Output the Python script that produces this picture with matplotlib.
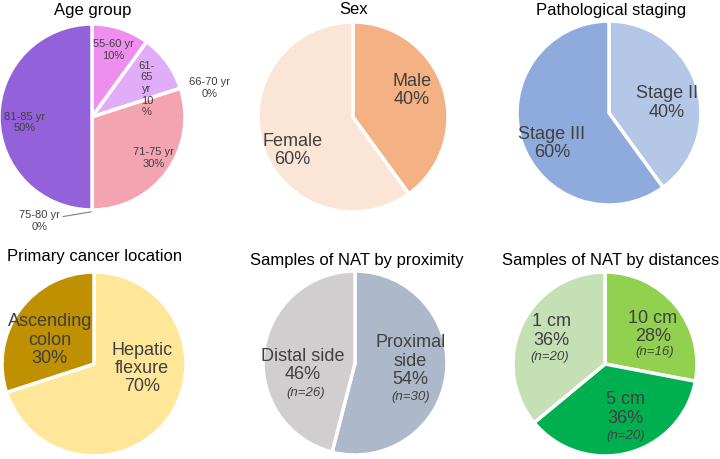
import matplotlib
matplotlib.use('Agg')
import matplotlib.pyplot as plt

plt.rcParams['font.family'] = ['Liberation Sans', 'DejaVu Sans']

W, H = 720, 459
TXT = '#404040'

# data
age_labels = ['55-60 yr', '61-65 yr', '66-70 yr', '71-75 yr', '75-80 yr', '81-85 yr']
age_values = [10, 10, 0, 30, 0, 50]
sex_labels = ['Male', 'Female']
sex_values = [40, 60]
stage_labels = ['Stage II', 'Stage III']
stage_values = [40, 60]
location_labels = ['Hepatic\nflexure', 'Ascending\ncolon']
location_values = [70, 30]
proximity_labels = ['Proximal\nside', 'Distal side']
proximity_values = [54, 46]
proximity_n = [30, 26]
distance_labels = ['10 cm', '5 cm', '1 cm']
distance_values = [28, 36, 36]
distance_n = [16, 20, 20]

fig = plt.figure(figsize=(W / 100, H / 100), dpi=100)


def px_axes(cx, cy, r):
    return fig.add_axes([(cx - r) / W, 1 - (cy + r) / H, 2 * r / W, 2 * r / H])


def draw_pie(cx, cy, r, values, colors, texts, pos, fs, ns=None, npos=None,
             ls=1.1):
    ax = px_axes(cx, cy, r)
    ax.pie(values, colors=colors, startangle=90, counterclock=False, radius=1,
           wedgeprops=dict(edgecolor='white', linewidth=2.5))
    ax.set_xlim(-1, 1)
    ax.set_ylim(-1, 1)
    ax.set_aspect('auto')
    ax.axis('off')
    for t, (x, y) in zip(texts, pos):
        ax.text(x, y, t, ha='center', va='center', fontsize=fs, color=TXT,
                linespacing=ls)
    if ns is not None:
        for n, (x, y) in zip(ns, npos):
            ax.text(x, y, f'(n={n})', ha='center', va='center', fontsize=9.5,
                    style='italic', color=TXT)
    return ax


def title(x, y, s):
    fig.text(x / W, 1 - y / H, s, ha='center', va='center', fontsize=12,
             color='black')


def with_pct(labels, values):
    return [f'{l}\n{v}%' for l, v in zip(labels, values)]


# Age group
age_texts = with_pct(age_labels, age_values)
age_texts[1] = '61-\n65\nyr\n10\n%'
ax = draw_pie(92, 117, 93, age_values,
              ['#EE8EEE', '#E2ADF8', '#D59AE8', '#F4A3B1', '#B070C8', '#9361D9'],
              age_texts,
              [(0.23, 0.72), (0.59, 0.30), (1.26, 0.31), (0.66, -0.44),
               (-0.56, -1.12), (-0.72, -0.06)], 8, ls=1.2)
ax.plot([-0.31, -0.01], [-1.07, -1.02], color='#808080', lw=0.8, clip_on=False)
title(93, 11, 'Age group')

# Sex
draw_pie(353, 117, 95, sex_values, ['#F4B183', '#FBE5D6'],
         with_pct(sex_labels, sex_values),
         [(0.62, 0.28), (-0.64, -0.35)], 13)
title(354, 9, 'Sex')

# Pathological staging
draw_pie(609, 113, 92, stage_values, ['#B4C7E7', '#8FAADC'],
         with_pct(stage_labels, stage_values),
         [(0.63, 0.11), (-0.62, -0.33)], 13)
title(611, 10, 'Pathological staging')

# Primary cancer location
draw_pie(94, 364, 92, location_values, ['#FFE699', '#BF9000'],
         with_pct(location_labels, location_values),
         [(0.52, -0.05), (-0.48, 0.26)], 13)
title(95, 257, 'Primary cancer location')

# NAT by proximity
draw_pie(355, 363, 92, proximity_values, ['#ADB9CA', '#D0CECE'],
         with_pct(proximity_labels, proximity_values),
         [(0.60, 0.02), (-0.57, -0.03)], 13,
         proximity_n, [(0.60, -0.37), (-0.54, -0.33)])
title(357, 260, 'Samples of NAT by proximity')

# NAT by distances
draw_pie(605, 364, 92, distance_values, ['#92D050', '#00B050', '#C5E0B4'],
         with_pct(distance_labels, distance_values),
         [(0.52, 0.40), (0.22, -0.49), (-0.58, 0.36)], 13,
         distance_n, [(0.54, 0.13), (0.23, -0.78), (-0.60, 0.08)])
title(611, 260, 'Samples of NAT by distances')

fig.savefig('out.png', dpi=100)
